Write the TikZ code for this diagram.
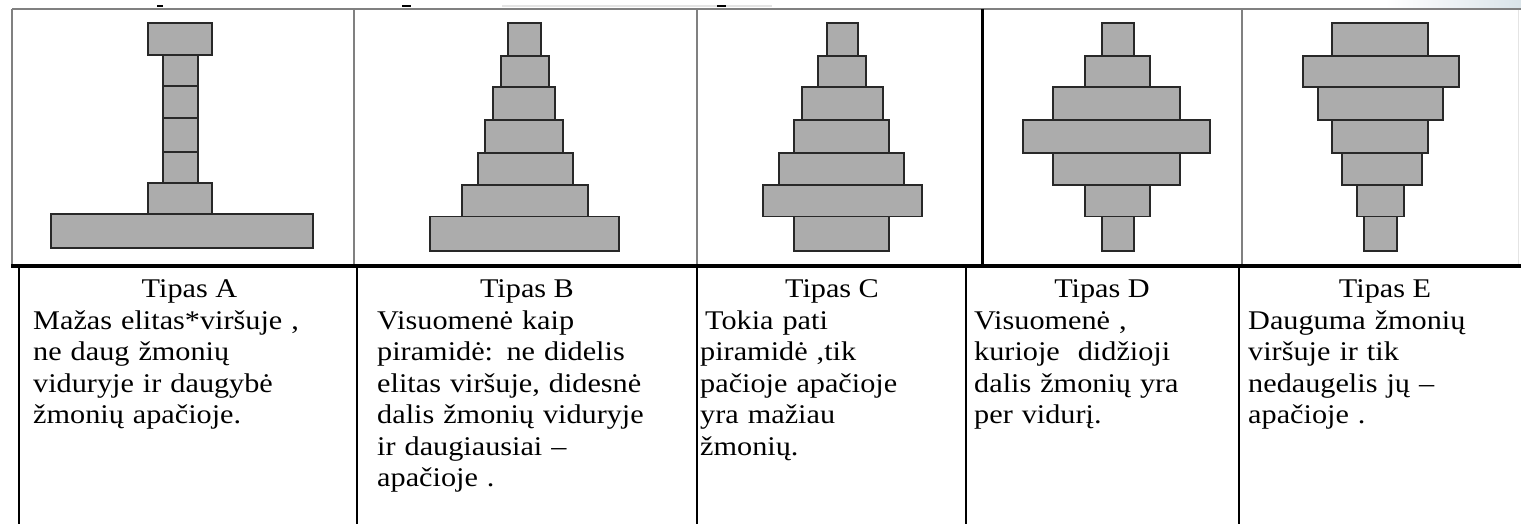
\documentclass[tikz,border=0pt]{standalone}
\usepackage{fontspec}
\setmainfont{Liberation Serif}[FakeStretch=1.12]
\definecolor{blkfill}{RGB}{172,172,172}
\definecolor{blkdraw}{RGB}{40,40,40}
\definecolor{gridgrey}{RGB}{128,128,128}
\definecolor{faint}{RGB}{228,228,228}
\definecolor{haze}{RGB}{218,228,233}
\newcommand\blkrow[4]{\draw[blk] (#1,#2) rectangle (#3,#4);}
\begin{document}
\begin{tikzpicture}[x=1pt,y=-1pt,
  blk/.style={draw=blkdraw, line width=1.8pt, fill=blkfill},
  gline/.style={draw=gridgrey, line width=2.5pt},
  bline/.style={draw=black, line width=2.6pt},
  title/.style={anchor=base, inner sep=0pt, font=\fontsize{27}{31.5}\selectfont},
  body/.style={anchor=base west, inner sep=0pt, align=left, text width=330pt, font=\fontsize{27}{31.5}\selectfont}]
\useasboundingbox (0,0) rectangle (1521,524);
\fill[white] (0,0) rectangle (1521,524);
% artifacts at top
\shade[left color=white, right color=haze] (1385,0) rectangle (1521,8);
\fill[faint] (502,5) rectangle (772,7.3);
\fill[black] (157,5) rectangle (163,7.3);
\fill[black] (402,5) rectangle (411,7.3);
\fill[black] (717,5) rectangle (726,7.3);
% Pyramid A
\blkrow{147.7}{22.7}{212.3}{55}
\blkrow{163}{55}{198}{86}
\blkrow{163}{86}{198}{118.3}
\blkrow{163}{118.3}{198}{151.7}
\blkrow{163}{151.7}{198}{182.7}
\blkrow{148}{182.7}{212}{214.3}
\blkrow{51}{214.3}{313}{248.3}
% Pyramid B
\blkrow{508.3}{23.3}{540.7}{56}
\blkrow{501}{56}{549.3}{87}
\blkrow{493.3}{87}{555}{120.3}
\blkrow{485}{120.3}{562.7}{153}
\blkrow{478.3}{153}{572.7}{185}
\blkrow{462.3}{185}{587.7}{216.5}
\blkrow{430}{216.5}{619.3}{251}
% Pyramid C
\blkrow{826.7}{23.3}{857.7}{56}
\blkrow{817.7}{56}{865.7}{87}
\blkrow{802.3}{87}{883.3}{120.3}
\blkrow{794.3}{120.3}{889.3}{153}
\blkrow{779.3}{153}{904}{185}
\blkrow{762.7}{185}{921.7}{216.5}
\blkrow{794.3}{216.5}{889.3}{251}
% Pyramid D
\blkrow{1101.7}{23.3}{1134}{56}
\blkrow{1085}{56}{1150}{87}
\blkrow{1053.3}{87}{1180}{120.3}
\blkrow{1023.3}{120.3}{1210}{153}
\blkrow{1053.3}{153}{1180}{185}
\blkrow{1085}{185}{1150}{216.5}
\blkrow{1101.7}{216.5}{1134}{251}
% Pyramid E
\blkrow{1332.3}{23.3}{1428.3}{56}
\blkrow{1302.7}{56}{1459.3}{87}
\blkrow{1317.7}{87}{1443.3}{120.3}
\blkrow{1332.3}{120.3}{1428.3}{153}
\blkrow{1341.7}{153}{1421.7}{185}
\blkrow{1356.7}{185}{1404}{216.5}
\blkrow{1364.3}{216.5}{1397.3}{251}
% top grid
\draw[gline] (12,9) -- (1521,9);
\draw[gline] (12,9) -- (12,266);
\draw[gline] (354,9) -- (354,266);
\draw[gline] (697,9) -- (697,266);
\draw[bline] (982.3,9) -- (982.3,266);
\draw[gline] (1242,9) -- (1242,266);
\draw[draw=faint, line width=1pt] (1518,10) -- (1518,266);
% bottom grid
\draw[draw=black, line width=3.5pt] (11,266) -- (1521,266);
\draw[bline] (19,266) -- (19,524);
\draw[bline] (357,266) -- (357,524);
\draw[bline] (697,266) -- (697,524);
\draw[bline] (966,266) -- (966,524);
\draw[bline] (1239,266) -- (1239,524);
% texts
\node[title] (tA) at (189.5,297.5) {Tipas A};
\node[title] (tB) at (527,297.5) {Tipas B};
\node[title] (tC) at (832,297.5) {Tipas C};
\node[title] (tD) at (1102,297.5) {Tipas D};
\node[title] (tE) at (1385,297.5) {Tipas E};
\node[body] (bA) at (33,329) {Mažas elitas*viršuje ,\\ne daug žmonių\\viduryje ir daugybė\\žmonių apačioje.};
\node[body] (bB) at (377,329) {Visuomenė kaip\\piramidė: ne didelis\\elitas viršuje, didesnė\\dalis žmonių viduryje\\ir daugiausiai –\\apačioje .};
\node[body] (bC) at (700,329) {\hspace*{5pt}Tokia pati\\piramidė ,tik\\pačioje apačioje\\yra mažiau\\žmonių.};
\node[body] (bD) at (974,329) {Visuomenė ,\\kurioje\ \ didžioji\\dalis žmonių yra\\per vidurį.};
\node[body] (bE) at (1248,329) {Dauguma žmonių\\viršuje ir tik\\nedaugelis jų –\\apačioje .};
\end{tikzpicture}
\end{document}
